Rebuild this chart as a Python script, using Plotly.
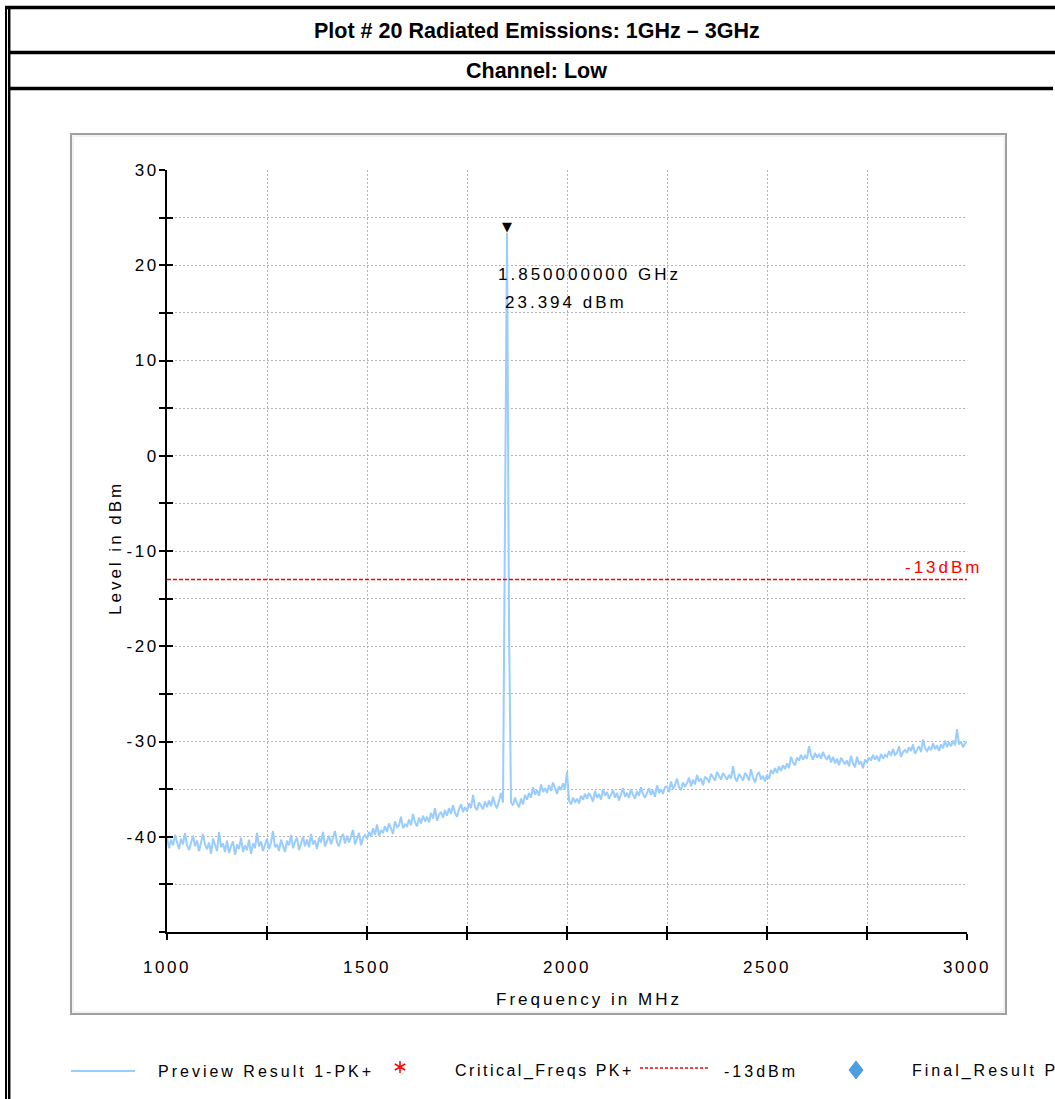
import plotly.graph_objects as go

# ---- sweep data: Preview Result 1-PK+ (1 GHz - 3 GHz, 5 MHz bins) ----
freq_start_mhz = 1000
freq_step_mhz = 5
level_dbm = [
    -40.1, -41.2, -40.3, -40.9, -39.8, -40.7, -41.3, -40.2, -40.8, -39.6,
    -40.9, -41.4, -40.5, -39.9, -41.0, -40.4, -41.5, -40.6, -39.7, -40.8,
    -41.3, -40.6, -41.8, -40.2, -40.9, -41.5, -39.5, -41.1, -40.7, -41.6,
    -40.4, -41.7, -41.0, -40.5, -41.9, -40.8, -41.3, -40.1, -41.6, -40.9,
    -41.4, -40.3, -41.8, -40.7, -41.2, -39.6, -41.0, -40.5, -41.5, -40.8,
    -40.2, -41.3, -40.6, -39.4, -41.1, -40.8, -41.5, -40.3, -40.9, -41.6,
    -40.4, -40.9, -39.8, -41.2, -40.5, -40.1, -41.4, -40.7, -40.0, -41.0,
    -40.3, -41.1, -39.7, -40.8, -40.4, -41.3, -40.1, -40.6, -39.5, -41.0,
    -40.5, -39.9, -40.8, -40.2, -39.4, -40.6, -41.0, -40.1, -39.7, -40.7,
    -39.9, -40.6, -40.0, -39.3, -40.8, -40.3, -39.6, -40.9, -40.1, -39.8,
    -40.2, -39.5, -40.0, -39.1, -39.8, -38.7, -39.9, -39.3, -39.6, -38.9,
    -39.5, -38.6, -39.2, -39.7, -38.4, -39.0, -38.8, -37.9, -39.1, -38.7,
    -38.9, -38.2, -38.8, -37.6, -38.5, -38.9, -38.0, -38.6, -37.8, -38.4,
    -37.9, -38.5, -37.5, -38.1, -37.0, -38.3, -37.7, -37.4, -38.0, -37.2,
    -37.8, -37.0, -37.6, -36.7, -37.5, -37.9, -37.1, -36.6, -37.4, -36.9,
    -37.3, -36.5, -37.0, -35.6, -36.9, -37.2, -36.4, -36.8, -37.1, -36.3,
    -36.9, -36.2, -36.8, -35.8, -36.6, -37.0, -36.1, -35.4, -36.4, -4.8,
    23.394, -17.5, -36.4, -36.7, -35.9, -36.5, -36.9, -36.0, -36.6, -35.6,
    -36.1, -35.4, -35.9, -34.8, -35.6, -35.1, -35.7, -34.5, -35.3, -34.9,
    -35.4, -34.6, -35.2, -34.3, -35.0, -35.5, -34.7, -35.1, -34.4, -35.0,
    -33.2, -36.2, -36.6, -35.9, -36.4, -36.0, -36.5, -35.7, -36.1, -35.5,
    -36.0, -35.4, -35.8, -36.3, -35.2, -35.9, -35.5, -36.1, -35.0, -35.7,
    -35.3, -36.0, -35.6, -35.1, -35.9, -35.4, -36.2, -35.5, -34.9, -35.8,
    -35.4, -35.9, -35.0, -35.6, -36.0, -35.2, -35.7, -34.8, -35.5, -35.9,
    -35.3, -34.9, -35.6, -35.1, -35.8, -34.6, -35.4, -35.0, -35.5, -34.8,
    -34.7, -35.3, -34.2, -35.0, -34.6, -33.9, -34.8, -35.1, -34.3, -34.7,
    -34.4, -33.8, -34.7, -34.0, -34.5, -33.5, -34.2, -33.9, -34.6, -33.7,
    -33.9, -34.3, -33.4, -33.8, -34.1, -33.2, -33.7, -34.0, -33.3, -33.6,
    -34.0, -33.5, -33.9, -32.6, -33.8, -34.2, -33.4, -33.7, -34.1, -33.3,
    -33.6, -34.1, -32.9, -33.8, -34.3, -33.5, -33.2, -34.0, -33.6, -34.2,
    -33.5, -33.9, -33.0, -33.4, -32.8, -33.3, -32.6, -33.1, -32.5, -32.9,
    -32.3, -32.8, -31.6, -32.2, -32.5, -31.7, -32.0, -31.4, -31.9, -31.5,
    -31.8, -30.5, -31.4, -31.9, -31.2, -31.7, -31.3, -31.8, -31.1, -31.6,
    -31.9, -31.4, -32.2, -31.6, -32.3, -31.8, -32.5, -31.7, -32.0, -32.4,
    -32.0, -32.6, -31.5, -32.3, -32.7, -31.6, -32.4, -32.1, -32.8, -31.9,
    -32.2, -31.7, -32.0, -31.4, -31.9, -31.5, -32.1, -31.3, -31.8, -31.4,
    -31.6, -31.0, -31.5, -30.8, -31.4, -31.2, -30.5, -31.6, -31.1, -30.9,
    -31.2, -30.6, -31.0, -30.3, -31.3, -30.8, -30.5, -31.1, -29.8, -30.7,
    -31.0, -30.6, -30.9, -30.2, -30.8, -30.4, -31.0, -30.3, -30.7, -29.9,
    -30.6, -30.1, -30.5, -29.9, -30.4, -28.7, -30.3, -30.0, -30.6, -30.2,
    -30.0,
]
freq_mhz = [freq_start_mhz + freq_step_mhz * i for i in range(len(level_dbm))]

limit_dbm = -13.0
x_range = [1000, 3000]
y_range = [-50, 30]
x_tick_vals = [1000, 1500, 2000, 2500, 3000]
x_tick_text = ["1000", "1500", "2000", "2500", "3000"]
y_tick_vals = [-40, -30, -20, -10, 0, 10, 20, 30]
y_tick_text = ["-40", "-30", "-20", "-10", "0", "10", "20", "30"]

title_main = "Plot # 20 Radiated Emissions: 1GHz – 3GHz"
title_channel = "Channel: Low"
x_title = "Frequency in MHz"
y_title = "Level in dBm"
legend_names = ["Preview Result 1-PK+", "Critical_Freqs PK+", "-13dBm", "Final_Result PK+"]

# peak marker is taken from the sweep itself
peak_idx = max(range(len(level_dbm)), key=lambda i: level_dbm[i])
peak_freq = freq_mhz[peak_idx]
peak_level = level_dbm[peak_idx]

W, H = 1055, 1099
PL, PR, PT, PB = 167, 967, 170, 932   # plot area in page pixels

def px(x):
    return (x - PL) / (PR - PL)

def py(y):
    return (PB - y) / (PB - PT)

FONT = "Liberation Sans, Arial, sans-serif"
NARROW = "Liberation Sans Narrow, Arial Narrow, Liberation Sans, Arial, sans-serif"
TRACE_BLUE = "#99ccff"
GRID = "#b3b3b3"

def spaced(text, ls=3):
    return f"<span style='letter-spacing:{ls}px'>{text}</span>"

fig = go.Figure()

fig.add_trace(go.Scatter(
    x=freq_mhz, y=level_dbm, mode="lines",
    line=dict(color=TRACE_BLUE, width=2),
    name=legend_names[0], showlegend=False, hoverinfo="skip",
))
fig.add_trace(go.Scatter(
    x=x_range, y=[limit_dbm, limit_dbm], mode="lines",
    line=dict(color="#ff0000", width=1.5, dash="4px,2px"),
    name=legend_names[2], showlegend=False, hoverinfo="skip",
))
# companion axes that carry the inward half of the crossing ticks
fig.add_trace(go.Scatter(x=[], y=[], xaxis="x2", yaxis="y2", showlegend=False, hoverinfo="skip"))

tick_style = dict(ticklen=6, tickwidth=2, tickcolor="black")
grid_style = dict(showgrid=True, gridcolor=GRID, gridwidth=1, griddash="2px,2px")

fig.update_layout(
    width=W, height=H,
    margin=dict(l=PL, r=W - PR, t=PT, b=H - PB, pad=0),
    paper_bgcolor="white", plot_bgcolor="white",
    showlegend=False,
    xaxis=dict(
        range=x_range, tickmode="array", tickvals=x_tick_vals, ticktext=x_tick_text,
        ticks="outside", **tick_style,
        showline=True, linecolor="black", linewidth=2, zeroline=False,
        tickfont=dict(family=FONT, size=17, color="black"), ticklabelstandoff=13,
        minor=dict(tick0=1000, dtick=250, ticks="outside", **tick_style, **grid_style),
        **grid_style,
    ),
    yaxis=dict(
        range=y_range, tickmode="array", tickvals=y_tick_vals, ticktext=y_tick_text,
        ticks="outside", **tick_style,
        showline=True, linecolor="black", linewidth=2, zeroline=False,
        tickfont=dict(family=FONT, size=17, color="black"), ticklabelstandoff=-3,
        minor=dict(tick0=0, dtick=5, ticks="outside", **tick_style, **grid_style),
        **grid_style,
    ),
    xaxis2=dict(
        overlaying="x", anchor="y", side="bottom", range=x_range,
        tickmode="array", tickvals=x_tick_vals, ticks="inside", **tick_style,
        showticklabels=False, showgrid=False, showline=False, zeroline=False,
        minor=dict(tick0=1000, dtick=250, ticks="inside", **tick_style, showgrid=False),
    ),
    yaxis2=dict(
        overlaying="y", anchor="x", side="left", range=y_range,
        tickmode="array", tickvals=y_tick_vals, ticks="inside", **tick_style,
        showticklabels=False, showgrid=False, showline=False, zeroline=False,
        minor=dict(tick0=0, dtick=5, ticks="inside", **tick_style, showgrid=False),
    ),
)

shapes = []

def hline(x0, x1, y, width, color="black", dash=None):
    d = dict(type="line", xref="paper", yref="paper",
             x0=px(x0), x1=px(x1), y0=py(y), y1=py(y),
             line=dict(color=color, width=width))
    if dash:
        d["line"]["dash"] = dash
    shapes.append(d)

def vline(x, y0, y1, width, color="black"):
    shapes.append(dict(type="line", xref="paper", yref="paper",
                       x0=px(x), x1=px(x), y0=py(y0), y1=py(y1),
                       line=dict(color=color, width=width)))

# report table frame
hline(5, W, 7.5, 3.5)
hline(8, W, 52.5, 3.5)
hline(8, W - 2, 88.5, 3.5)
vline(6, 6, H, 2)
vline(9.2, 6, H, 2.5)

# chart panel border
shapes.append(dict(type="rect", xref="paper", yref="paper",
                   x0=px(71), x1=px(1006), y0=py(134), y1=py(1014),
                   line=dict(color="#a0a0a0", width=2), layer="below"))
shapes.append(dict(type="rect", xref="paper", yref="paper",
                   x0=px(73), x1=px(1004), y0=py(136), y1=py(1012),
                   line=dict(color="#e6e6e6", width=1), layer="below"))

# legend row
LEG_Y = 1071
hline(71, 135, LEG_Y, 2, TRACE_BLUE)
cx, cy, r = 400, 1067, 6
ast = (f"M {px(cx)} {py(cy - r)} L {px(cx)} {py(cy + r)} "
       f"M {px(cx - 0.87 * r)} {py(cy - 0.5 * r)} L {px(cx + 0.87 * r)} {py(cy + 0.5 * r)} "
       f"M {px(cx - 0.87 * r)} {py(cy + 0.5 * r)} L {px(cx + 0.87 * r)} {py(cy - 0.5 * r)}")
shapes.append(dict(type="path", xref="paper", yref="paper", path=ast,
                   line=dict(color="#ff0000", width=1.5)))
hline(640, 710, 1068, 1.5, "#ff0000", dash="3px,2px")
dx, dyc, hw, hh = 856, 1070, 7, 9
dia = (f"M {px(dx)} {py(dyc - hh)} L {px(dx + hw)} {py(dyc)} "
       f"L {px(dx)} {py(dyc + hh)} L {px(dx - hw)} {py(dyc)} Z")
shapes.append(dict(type="path", xref="paper", yref="paper", path=dia,
                   fillcolor="#4d9de0", line=dict(color="#4d9de0", width=1)))

fig.update_layout(shapes=shapes)

ann = []

def label(x, y, text, size=17, color="black", xanchor="center", family=FONT, **kw):
    ann.append(dict(xref="paper", yref="paper", x=px(x), y=py(y), text=text,
                    showarrow=False, xanchor=xanchor, yanchor="middle",
                    font=dict(family=family, size=size, color=color), **kw))

label(537, 31, f"<b>{title_main}</b>", size=21.5, family=NARROW)
label(536, 71, f"<b>{title_channel}</b>", size=21.5, family=NARROW)

label(589, 1000, spaced(x_title, 3))
label(115, 548, spaced(y_title, 3), textangle=-90)

label(944, 567, spaced(f"{limit_dbm:.0f}dBm", 3), color="#ff0000")

label(589, 274, spaced(f"{peak_freq / 1000:.9f} GHz", 3))
label(566, 302, spaced(f"{peak_level:.3f} dBm", 3))

# peak marker sitting on the highest bin
ann.append(dict(xref="x", yref="y", x=peak_freq, y=peak_level, text="▼",
                showarrow=False, xanchor="center", yanchor="bottom", yshift=-3,
                font=dict(family="DejaVu Sans", size=13, color="black")))

LEG_FONT = 16
label(156, LEG_Y, spaced(legend_names[0], 3), size=LEG_FONT, xanchor="left")
label(453, LEG_Y, spaced(legend_names[1], 2.5), size=LEG_FONT, xanchor="left")
label(722, LEG_Y, spaced(legend_names[2], 3), size=LEG_FONT, xanchor="left")
label(910, LEG_Y, spaced(legend_names[3], 3), size=LEG_FONT, xanchor="left")

fig.update_layout(annotations=ann)

tick_css = ("var s=document.createElement('style');"
            "s.textContent='.xtick text,.ytick text{letter-spacing:2.5px}';"
            "document.head.appendChild(s);")

fig.write_html("out.html", post_script=tick_css)
